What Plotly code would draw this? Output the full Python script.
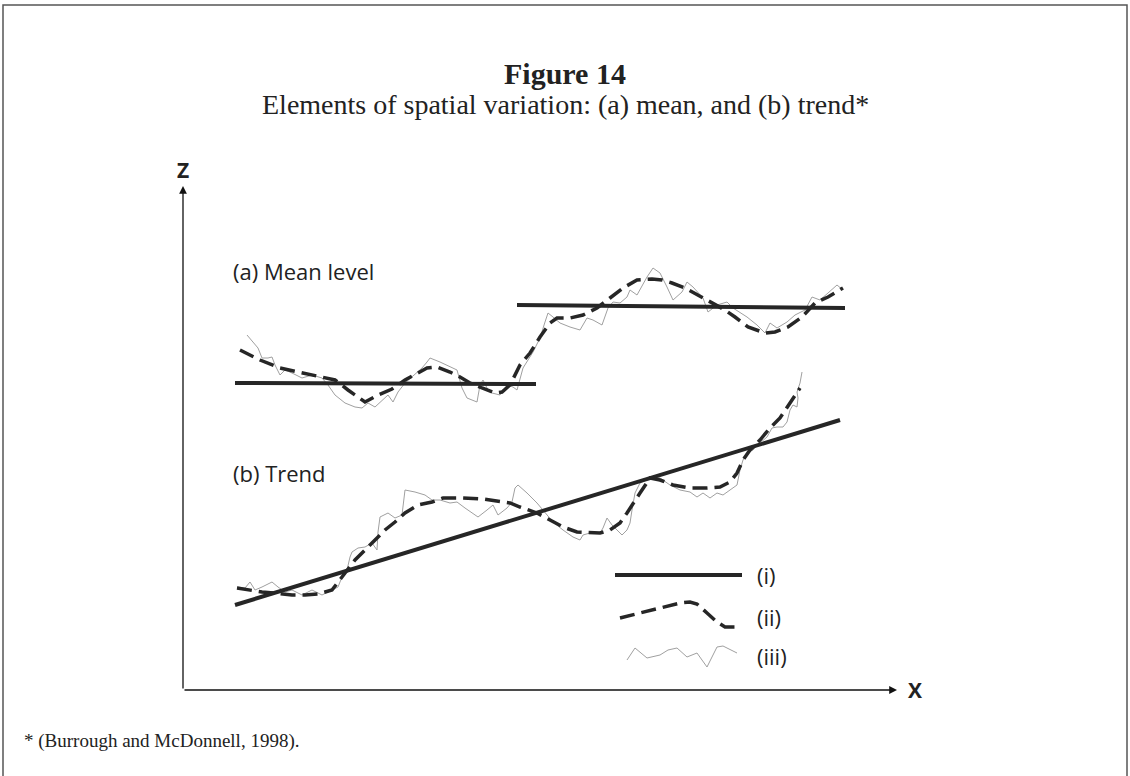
import plotly.graph_objects as go


# chart units: x to the right of the Z axis, z above the X axis
# -----------------------------------------------------------------------------
# - (a) mean level -------------------------------------------------------------
# -----------------------------------------------------------------------------
MEAN_LOW_X = [52, 353]
MEAN_LOW_Z = [307, 306]
MEAN_HIGH_X = [334, 662]
MEAN_HIGH_Z = [385, 382]

MEAN_SMOOTH_X = [57, 77, 97, 127, 152, 165, 175, 182, 195, 209, 222, 235, 244, 254, 267, 277,
                 287, 299, 312, 319, 327, 337, 347, 357, 367, 374, 387, 400, 414, 427, 440, 454,
                 469, 479, 489, 502, 519, 529, 542, 552, 565, 582, 592, 605, 619, 632, 645, 660]
MEAN_SMOOTH_Z = [340, 330, 322, 315, 310, 300, 293, 288, 295, 301, 310, 317, 322, 323, 318, 313,
                 307, 302, 297, 298, 305, 325, 337, 353, 367, 372, 372, 375, 382, 392, 402, 410,
                 411, 410, 407, 402, 393, 387, 380, 373, 363, 357, 358, 363, 373, 387, 393, 402]

MEAN_RAW_X = [64, 70, 75, 79, 85, 89, 92, 97, 102, 109, 119, 129, 139, 145, 152, 162, 172, 179,
              185, 192, 199, 205, 210, 215, 222, 229, 239, 244, 247, 257, 264, 274, 279, 284,
              294, 297, 300, 304, 309, 317, 324, 330, 334, 340, 350, 357, 362, 365, 370, 377,
              387, 397, 404, 410, 419, 425, 430, 437, 444, 447, 454, 464, 470, 477, 484, 490,
              499, 504, 510, 520, 525, 534, 544, 550, 564, 574, 582, 587, 594, 604, 612, 622,
              629, 637, 645, 654, 660]
MEAN_RAW_Z = [355, 348, 342, 332, 332, 333, 325, 315, 320, 317, 312, 315, 312, 305, 295, 287,
              283, 282, 287, 283, 290, 295, 288, 298, 307, 313, 322, 328, 332, 328, 325, 320,
              302, 292, 288, 305, 310, 302, 297, 295, 305, 303, 300, 322, 338, 352, 368, 377,
              373, 367, 363, 360, 372, 370, 365, 382, 388, 387, 393, 400, 395, 413, 422, 417,
              403, 390, 398, 408, 403, 392, 378, 385, 388, 382, 373, 365, 357, 367, 362, 368,
              375, 380, 393, 390, 397, 405, 400]

# -----------------------------------------------------------------------------
# - (b) trend ------------------------------------------------------------------
# -----------------------------------------------------------------------------
TREND_X = [52, 657]
TREND_Z = [85, 270]

TREND_SMOOTH_X = [54, 65, 79, 92, 109, 122, 135, 149, 157, 164, 172, 182, 192, 202, 212, 222,
                  235, 249, 260, 280, 300, 314, 327, 337, 354, 367, 380, 394, 407, 417, 427, 437,
                  444, 450, 457, 467, 477, 490, 507, 524, 537, 547, 554, 560, 567, 577, 587, 597,
                  604, 610, 617]
TREND_SMOOTH_Z = [102, 100, 98, 97, 95, 95, 96, 100, 110, 120, 130, 140, 150, 160, 168, 177,
                  185, 188, 192, 192, 191, 189, 187, 183, 177, 170, 163, 158, 157, 157, 160, 167,
                  177, 187, 197, 212, 210, 205, 202, 202, 203, 208, 217, 230, 240, 250, 262, 272,
                  282, 292, 302]

TREND_RAW_X = [54, 62, 67, 72, 79, 89, 95, 102, 109, 119, 129, 139, 149, 155, 159, 164, 167, 169,
               175, 182, 189, 194, 195, 197, 205, 212, 219, 220, 222, 232, 242, 249, 257, 267,
               274, 282, 290, 295, 304, 310, 315, 324, 329, 332, 335, 344, 354, 362, 370, 380,
               390, 397, 400, 407, 417, 420, 424, 429, 434, 439, 444, 447, 449, 452, 457, 467,
               477, 487, 497, 507, 514, 520, 527, 534, 540, 547, 554, 557, 560, 564, 570, 577,
               584, 589, 594, 600, 604, 607, 610, 614, 615, 614, 617, 619]
TREND_RAW_Z = [103, 102, 108, 100, 103, 108, 103, 98, 100, 95, 100, 95, 100, 103, 113, 120, 133,
               138, 142, 143, 147, 140, 158, 173, 177, 172, 175, 183, 200, 198, 195, 190, 190,
               187, 188, 182, 177, 173, 180, 185, 175, 182, 188, 202, 205, 197, 187, 177, 168,
               160, 153, 150, 155, 157, 157, 162, 172, 165, 160, 155, 160, 167, 180, 197, 207,
               212, 212, 205, 200, 198, 193, 197, 192, 197, 195, 200, 205, 220, 230, 237, 240,
               247, 253, 262, 263, 263, 268, 280, 285, 283, 292, 298, 307, 318]

# -----------------------------------------------------------------------------
# - key samples ----------------------------------------------------------------
# -----------------------------------------------------------------------------
KEY_LABELS = ['(i)', '(ii)', '(iii)']
KEY_LABEL_Z = [115, 73, 34]
KEY_SOLID_X = [432, 559]
KEY_SOLID_Z = [115, 115]
KEY_DASHED_X = [437, 497, 507, 514, 524, 534, 542, 555]
KEY_DASHED_Z = [72, 87, 88, 86, 77, 68, 63, 63]
KEY_RAW_X = [444, 452, 464, 477, 485, 494, 504, 514, 524, 534, 540, 554]
KEY_RAW_Z = [30, 42, 32, 35, 40, 42, 33, 37, 23, 43, 44, 37]


SOLID = dict(color='#262626', width=4)
DASHED = dict(color='#262626', width=3.5, dash='15px,7px')
RAW = dict(color='#a0a0a0', width=1)

SERIF = 'Liberation Serif'
SANS = 'Open Sans'
INK = '#222222'


def line(x, z, style):
    """
    one plain line trace in chart units
    """
    return go.Scatter(x=x, y=z, mode='lines', line=style, hoverinfo='skip', showlegend=False)


def label(text, x, y, size=22, xanchor='left', **kw):
    return dict(text=text, x=x, y=y, showarrow=False, xanchor=xanchor, yanchor='middle',
                font=dict(family=SANS, size=size, color=INK), **kw)


def axis_arrow(x, y):
    return dict(x=x, y=y, ax=0, ay=0, xref='x', yref='y', axref='x', ayref='y', text='',
                showarrow=True, arrowhead=2, arrowsize=1.2, arrowwidth=1.3,
                arrowcolor='#111111', standoff=0)


fig = go.Figure()

# raw data first so the heavier lines sit on top
for x, z, style in [
    (MEAN_RAW_X, MEAN_RAW_Z, RAW),
    (TREND_RAW_X, TREND_RAW_Z, RAW),
    (KEY_RAW_X, KEY_RAW_Z, RAW),
    (MEAN_SMOOTH_X, MEAN_SMOOTH_Z, DASHED),
    (TREND_SMOOTH_X, TREND_SMOOTH_Z, DASHED),
    (KEY_DASHED_X, KEY_DASHED_Z, DASHED),
    (MEAN_LOW_X, MEAN_LOW_Z, SOLID),
    (MEAN_HIGH_X, MEAN_HIGH_Z, SOLID),
    (TREND_X, TREND_Z, SOLID),
    (KEY_SOLID_X, KEY_SOLID_Z, SOLID),
]:
    fig.add_trace(line(x, z, style))

annotations = [
    axis_arrow(714, 0),
    axis_arrow(0, 504),
    label('<b>Z</b>', 0, 520, size=21, xanchor='center'),
    label('<b>X</b>', 723, 0, size=21),
    label('(a) Mean level', 48, 419),
    label('(b) Trend', 48, 217),
]
annotations += [label(t, 572, z) for t, z in zip(KEY_LABELS, KEY_LABEL_Z)]
annotations += [
    dict(text='<b>Figure 14</b>', x=0.5, y=1 - 73 / 776, xref='paper', yref='paper',
         showarrow=False, xanchor='center', yanchor='middle',
         font=dict(family=SERIF, size=30, color=INK)),
    dict(text='Elements of spatial variation: (a) mean, and (b) trend*', x=0.5, y=1 - 105 / 776,
         xref='paper', yref='paper', showarrow=False, xanchor='center', yanchor='middle',
         font=dict(family=SERIF, size=28, color=INK)),
    dict(text='* (Burrough and McDonnell, 1998).', x=22 / 1130, y=1 - 741 / 776,
         xref='paper', yref='paper', showarrow=False, xanchor='left', yanchor='middle',
         font=dict(family=SERIF, size=19, color=INK)),
]

fig.update_layout(
    width=1130,
    height=776,
    margin=dict(l=0, r=0, t=0, b=0),
    paper_bgcolor='white',
    plot_bgcolor='white',
    xaxis=dict(range=[-183, 947], visible=False, fixedrange=True),
    yaxis=dict(range=[-86, 690], visible=False, fixedrange=True),
    annotations=annotations,
    shapes=[dict(type='rect', xref='paper', yref='paper', x0=3 / 1130, x1=1127 / 1130,
                 y0=-0.1, y1=1 - 5 / 776, line=dict(color='#555555', width=1.5))],
)

fig.write_html("out.html", config={'displayModeBar': False},
               post_script="document.body.style.margin='0';")
